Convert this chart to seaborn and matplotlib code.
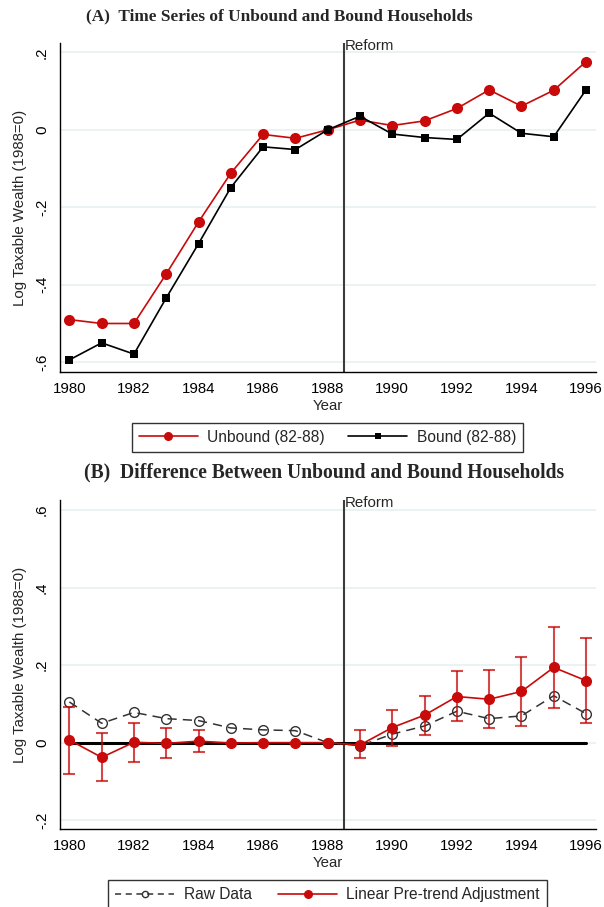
import numpy as np
import pandas as pd
import matplotlib
matplotlib.use("Agg")
import matplotlib.pyplot as plt
from matplotlib.lines import Line2D
from matplotlib.ticker import FuncFormatter
from matplotlib.transforms import offset_copy
import seaborn as sns

# ---- data -------------------------------------------------------------
years = list(range(1980, 1997))

unbound = [-0.490, -0.500, -0.500, -0.372, -0.238, -0.112, -0.012, -0.022, 0.000,
           0.025, 0.011, 0.023, 0.055, 0.103, 0.061, 0.102, 0.176]
bound = [-0.594, -0.550, -0.579, -0.434, -0.294, -0.149, -0.044, -0.051, 0.000,
         0.035, -0.011, -0.020, -0.025, 0.043, -0.009, -0.018, 0.103]

raw_diff = [0.105, 0.050, 0.078, 0.062, 0.057, 0.038, 0.033, 0.031, 0.000,
            -0.008, 0.022, 0.043, 0.081, 0.062, 0.069, 0.121, 0.075]
adj_diff = [0.007, -0.038, 0.001, -0.002, 0.004, -0.001, 0.000, 0.000, 0.000,
            -0.006, 0.039, 0.071, 0.119, 0.112, 0.132, 0.194, 0.160]
adj_lo = [-0.081, -0.100, -0.049, -0.039, -0.025, -0.001, 0.000, 0.000, 0.000,
          -0.039, -0.008, 0.019, 0.055, 0.039, 0.042, 0.090, 0.051]
adj_hi = [0.091, 0.024, 0.052, 0.037, 0.033, -0.001, 0.000, 0.000, 0.000,
          0.032, 0.084, 0.121, 0.184, 0.187, 0.221, 0.298, 0.269]

reform_year = 1988.5
yticks_a = [-0.6, -0.4, -0.2, 0.0, 0.2]
yticks_b = [-0.2, 0.0, 0.2, 0.4, 0.6]
xticks = list(range(1980, 1997, 2))

title_a = "(A)  Time Series of Unbound and Bound Households"
title_b = "(B)  Difference Between Unbound and Bound Households"
ylabel = "Log Taxable Wealth (1988=0)"

# ---- style ------------------------------------------------------------
sns.set_style("white")
plt.rcParams["font.family"] = ["Liberation Sans", "DejaVu Sans"]
FS = 10.8
LFS = 11.2
RED = "#c80a0a"
GRID = "#e6eff1"

df_a = pd.DataFrame({"year": years * 2,
                     "value": unbound + bound,
                     "group": ["Unbound (82-88)"] * len(years) + ["Bound (82-88)"] * len(years)})
df_b = pd.DataFrame({"year": years * 2,
                     "value": raw_diff + adj_diff,
                     "group": ["Raw Data"] * len(years) + ["Linear Pre-trend Adjustment"] * len(years)})

fig = plt.figure(figsize=(6.04, 9.07), dpi=100)
W, H = 604.0, 907.0


def px_axes(left, top, right, bottom):
    return fig.add_axes([left / W, 1 - bottom / H, (right - left) / W, (bottom - top) / H])


def stata_fmt(v, _pos):
    if abs(v) < 1e-9:
        return "0"
    s = f"{v:.1f}"
    return s.replace("0.", ".")


def style_axes(ax, yticks, ylim):
    ax.set_xlim(1979.71, 1996.3)
    ax.set_ylim(*ylim)
    ax.set_xticks(xticks)
    ax.set_yticks(yticks)
    ax.yaxis.set_major_formatter(FuncFormatter(stata_fmt))
    for lab in ax.get_yticklabels():
        lab.set_rotation(90)
        lab.set_va("center")
    ax.tick_params(axis="both", direction="out", length=4, width=1, colors="black",
                   labelsize=FS, pad=3)
    ax.tick_params(axis="y", pad=4)
    ax.grid(axis="y", color=GRID, lw=1.1)
    ax.grid(axis="x", visible=False)
    for s in ["top", "right"]:
        ax.spines[s].set_visible(False)
    for s in ["left", "bottom"]:
        ax.spines[s].set_color("black")
        ax.spines[s].set_linewidth(1.0)
    ax.set_xlabel("Year", fontsize=FS, labelpad=2)
    ax.set_ylabel(ylabel, fontsize=FS, labelpad=6)
    ax.axvline(reform_year, color="#3c3c3c", lw=1.5, zorder=2)
    tr = offset_copy(ax.transData, fig=fig, x=0, y=4, units="dots")
    ax.text(reform_year + 0.04, ylim[1], "Reform", fontsize=FS, va="top", ha="left",
            transform=tr)


def make_legend(handles, labels, anchor, loc, colsp):
    leg = fig.legend(handles, labels, ncol=2, loc=loc, bbox_to_anchor=anchor,
                     fontsize=LFS, frameon=True, fancybox=False, edgecolor="black",
                     handlelength=3.8, handletextpad=0.6, columnspacing=colsp,
                     borderpad=0.45, borderaxespad=0)
    leg.get_frame().set_linewidth(1.0)
    return leg


# ---- panel A ----------------------------------------------------------
ax1 = px_axes(60, 43, 595.7, 372.3)
sns.lineplot(data=df_a, x="year", y="value", hue="group", style="group",
             palette={"Unbound (82-88)": RED, "Bound (82-88)": "black"},
             markers={"Unbound (82-88)": "o", "Bound (82-88)": "s"},
             dashes=False, linewidth=1.2, legend=False, ax=ax1, zorder=3)
for line, ms in zip(ax1.lines, [8.0, 5.5]):
    line.set_markersize(ms)
    line.set_markeredgewidth(0)
style_axes(ax1, yticks_a, (-0.626, 0.224))

fig.text(279.5 / W, 1 - 16 / H, title_a, fontsize=12.4, fontweight="bold",
         family="Liberation Serif", ha="center", va="center")

handles_a = [Line2D([], [], color=RED, lw=1.2, marker="o", ms=6.5, mew=0),
             Line2D([], [], color="black", lw=1.2, marker="s", ms=4.5, mew=0)]
make_legend(handles_a, ["Unbound (82-88)", "Bound (82-88)"],
            (327.5 / W, 1 - 437 / H), "center", 1.5)

# ---- panel B ----------------------------------------------------------
ax2 = px_axes(60, 500, 595.7, 829.3)
ax2.plot([years[0], years[-1]], [0, 0], color="black", lw=2.2, zorder=2.5)
sns.lineplot(data=df_b[df_b.group == "Raw Data"], x="year", y="value",
             color="#333333", marker="o", markersize=7, markerfacecolor="none",
             markeredgecolor="#333333", markeredgewidth=1.0, linewidth=1.1,
             linestyle=(0, (6, 4)), legend=False, ax=ax2, zorder=3)
ax2.errorbar(years, adj_diff,
             yerr=[np.array(adj_diff) - np.array(adj_lo), np.array(adj_hi) - np.array(adj_diff)],
             fmt="none", ecolor=RED, alpha=0.75, elinewidth=1.5, capsize=4, capthick=1.5, zorder=3.5)
sns.lineplot(data=df_b[df_b.group == "Linear Pre-trend Adjustment"], x="year", y="value",
             color=RED, marker="o", markersize=8, markeredgewidth=0, linewidth=1.2,
             legend=False, ax=ax2, zorder=4)
style_axes(ax2, yticks_b, (-0.2235, 0.626))

fig.text(324.5 / W, 1 - 472 / H, title_b, fontsize=14.1, fontweight="bold",
         family="Liberation Serif", ha="center", va="center")

handles_b = [Line2D([], [], color="#333333", lw=1.1, ls=(0, (4, 3)), marker="o", ms=4.5,
                    mfc="none", mec="#333333", mew=1.0),
             Line2D([], [], color=RED, lw=1.2, marker="o", ms=6.5, mew=0)]
make_legend(handles_b, ["Raw Data", "Linear Pre-trend Adjustment"],
            (327.5 / W, 1 - 880 / H), "upper center", 1.7)

fig.savefig("out.png", dpi=100)
